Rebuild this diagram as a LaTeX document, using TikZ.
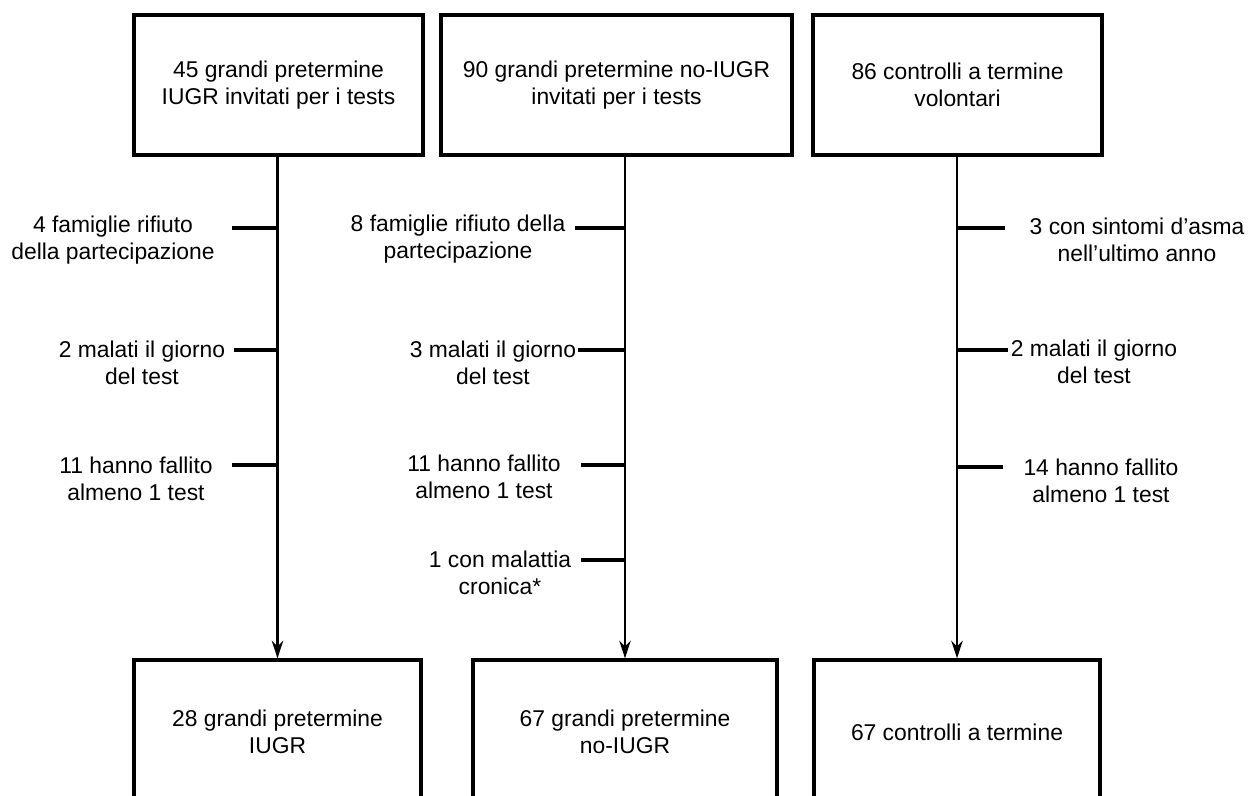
\documentclass[tikz,border=0pt]{standalone}
\usepackage{fontspec}
\setmainfont{Liberation Sans}
\usetikzlibrary{shapes,arrows.meta,positioning,calc}

\begin{document}
\begin{tikzpicture}[x=0.02cm, y=-0.02cm, every node/.style={align=center, font=\fontsize{13}{15.5}\selectfont}]
        % stili
        \tikzstyle{group} = [rectangle, minimum height=2.8cm, text centered, draw=black, line width=1.9pt, inner sep=0pt]
        \tikzstyle{result} = [rectangle, minimum height=2.88cm, text centered, draw=black, line width=1.9pt, inner sep=0pt]
        \tikzstyle{lost} = [inner sep=0pt]
        \tikzstyle{flow} = [line width=1.5pt, -{Stealth[length=10pt,width=6.5pt]}]
        \tikzstyle{tick} = [line width=1.8pt]

        \useasboundingbox (0,0) rectangle (1250,795);
        \clip (0,0) rectangle (1250,795);

        % gruppi iniziali
        \node (iugr) [group, minimum width=5.78cm] at (278.5,85) {45 grandi pretermine\\IUGR invitati per i tests};
        \node (noiugr) [group, minimum width=7.02cm] at (616.5,85) {90 grandi pretermine no-IUGR\\invitati per i tests};
        \node (ctrl) [group, minimum width=5.78cm] at (957.5,85) {86 controlli a termine\\volontari};

        % gruppi finali
        \node (iugr-end) [result, minimum width=5.74cm] at (277.5,732) {28 grandi pretermine\\IUGR};
        \node (noiugr-end) [result, minimum width=6.08cm] at (625,732) {67 grandi pretermine\\no-IUGR};
        \node (ctrl-end) [result, minimum width=5.72cm] at (957,732) {67 controlli a termine};

        % esclusi
        \node (l1a) [lost] at (113,240) {4 famiglie rifiuto\\della partecipazione};
        \node (l1b) [lost] at (142,363) {2 malati il giorno\\del test};
        \node (l1c) [lost] at (136,479) {11 hanno fallito\\almeno 1 test};
        \node (l2a) [lost] at (458,239) {8 famiglie rifiuto della\\partecipazione};
        \node (l2b) [lost] at (493,363) {3 malati il giorno\\del test};
        \node (l2c) [lost] at (484,477) {11 hanno fallito\\almeno 1 test};
        \node (l2d) [lost] at (500,573) {1 con malattia\\cronica*};
        \node (l3a) [lost] at (1137,240) {3 con sintomi d'asma\\nell'ultimo anno};
        \node (l3b) [lost] at (1094,362) {2 malati il giorno\\del test};
        \node (l3c) [lost] at (1101,481) {14 hanno fallito\\almeno 1 test};

        \coordinate (t1a) at (232,228);
        \coordinate (t1b) at (234,350);
        \coordinate (t1c) at (232,465);
        \coordinate (t2a) at (575,228);
        \coordinate (t2b) at (578,350);
        \coordinate (t2c) at (581,465);
        \coordinate (t2d) at (581,560);
        \coordinate (t3a) at (1005,228);
        \coordinate (t3b) at (1008,350);
        \coordinate (t3c) at (1003,467);

        % collegamenti
        \draw [flow] (iugr-end.north |- iugr.south) -- (iugr-end.north);
        \draw [flow] (noiugr-end.north |- noiugr.south) -- (noiugr-end.north);
        \draw [flow] (ctrl-end.north |- ctrl.south) -- (ctrl-end.north);
        \draw [tick] (t1a) -- (t1a -| iugr-end.north);
        \draw [tick] (t1b) -- (t1b -| iugr-end.north);
        \draw [tick] (t1c) -- (t1c -| iugr-end.north);
        \draw [tick] (t2a) -- (t2a -| noiugr-end.north);
        \draw [tick] (t2b) -- (t2b -| noiugr-end.north);
        \draw [tick] (t2c) -- (t2c -| noiugr-end.north);
        \draw [tick] (t2d) -- (t2d -| noiugr-end.north);
        \draw [tick] (t3a -| ctrl-end.north) -- (t3a);
        \draw [tick] (t3b -| ctrl-end.north) -- (t3b);
        \draw [tick] (t3c -| ctrl-end.north) -- (t3c);
    \end{tikzpicture}
\end{document}
